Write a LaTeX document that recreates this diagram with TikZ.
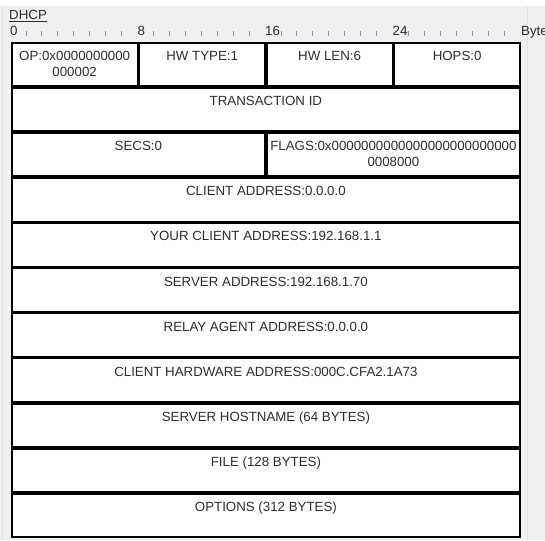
\documentclass[tikz,border=0pt]{standalone}
\usepackage{fontspec}
\setmainfont{Liberation Sans}
\usepackage{tikz}
\usetikzlibrary{positioning, calc}
\usepackage{xcolor}
\definecolor{panelgray}{RGB}{240,240,240}
\definecolor{edgegray}{RGB}{226,226,226}
\definecolor{textgray}{RGB}{45,45,45}
\definecolor{tickblue}{RGB}{140,156,184}

% one field of the header: name, left x, row, width, text
\newcommand{\fieldbox}[5]{%
  \node[cell, minimum width=#4-1.8, minimum height=43.3]
    (#1) at (#2+0.9, 41+45.1*#3+0.9) {};
  \node[celltext] (#1-text) at ([yshift=-9.2pt]#1.north) {#5};
}

\begin{document}
\begin{tikzpicture}[x=1pt, y=-1pt,
    cell/.style={draw=black, line width=1.8pt, fill=white, inner sep=0pt,
                 anchor=north west},
    celltext/.style={font=\fontsize{13.3}{16}\selectfont, text=textgray,
                     align=center, anchor=north, inner sep=0pt},
    rulenum/.style={font=\fontsize{13.3}{16}\selectfont, text=textgray,
                    anchor=base west, inner sep=0pt},
    tick/.style={draw=tickblue, line width=0.8pt}]
    \useasboundingbox (0,0) rectangle (545,540);
    \fill[panelgray] (0,6) rectangle (545,540);
    \draw[edgegray, line width=0.8pt] (2.5,6) -- (2.5,540);
    \draw[edgegray, line width=0.8pt] (527,6) -- (527,540);

    \node[rulenum] (title) at (9,20) {\underline{DHCP}};
    \node[rulenum] (r0) at (10,36) {0};
    \node[rulenum] (r8) at (137.5,36) {8};
    \node[rulenum] (r16) at (265,36) {16};
    \node[rulenum] (r24) at (392.5,36) {24};
    \node[rulenum] (bytes) at (521,36) {Bytes};
    \foreach \c in {0,8,16,24}
      \foreach \k in {1,...,7}
        \draw[tick] ({10+15.9375*(\c+\k)},31.5) -- ++(0,4.5);

    \fieldbox{op}{10}{0}{127.5}{OP:0x0000000000\\000002}
    \fieldbox{hwtype}{137.5}{0}{127.5}{HW TYPE:1}
    \fieldbox{hwlen}{265}{0}{127.5}{HW LEN:6}
    \fieldbox{hops}{392.5}{0}{127.5}{HOPS:0}
    \fieldbox{xid}{10}{1}{510}{TRANSACTION ID}
    \fieldbox{secs}{10}{2}{255}{SECS:0}
    \fieldbox{flags}{265}{2}{255}{FLAGS:0x0000000000000000000000000\\0008000}
    \fieldbox{ciaddr}{10}{3}{510}{CLIENT ADDRESS:0.0.0.0}
    \fieldbox{yiaddr}{10}{4}{510}{YOUR CLIENT ADDRESS:192.168.1.1}
    \fieldbox{siaddr}{10}{5}{510}{SERVER ADDRESS:192.168.1.70}
    \fieldbox{giaddr}{10}{6}{510}{RELAY AGENT ADDRESS:0.0.0.0}
    \fieldbox{chaddr}{10}{7}{510}{CLIENT HARDWARE ADDRESS:000C.CFA2.1A73}
    \fieldbox{sname}{10}{8}{510}{SERVER HOSTNAME (64 BYTES)}
    \fieldbox{file}{10}{9}{510}{FILE (128 BYTES)}
    \fieldbox{options}{10}{10}{510}{OPTIONS (312 BYTES)}
\end{tikzpicture}
\end{document}
